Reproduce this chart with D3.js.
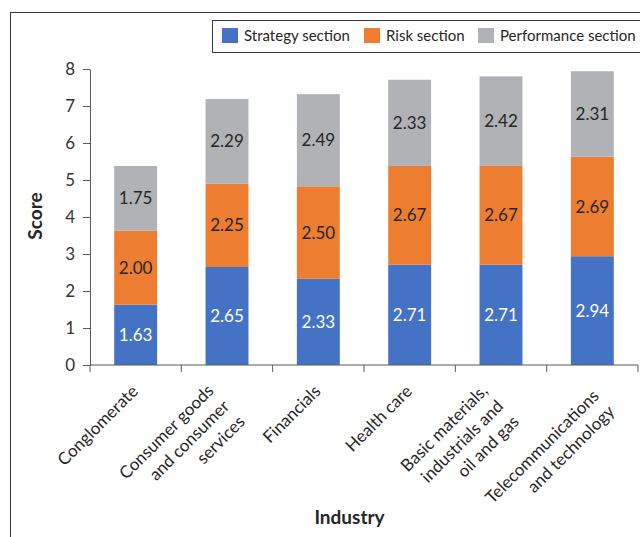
<!DOCTYPE html>
<html>
<head>
<meta charset="utf-8">
<script src="https://cdn.jsdelivr.net/npm/d3@7"></script>
<style>
  html, body { margin: 0; padding: 0; background: #fff; }
  svg { display: block; font-family: Lato, "Open Sans", sans-serif; }
</style>
</head>
<body>
<svg id="chart" width="640" height="537"></svg>
<script>
// Industry categories (each entry is a list of wrapped label lines)
const categories = [
  ["Conglomerate"],
  ["Consumer goods", "and consumer", "services"],
  ["Financials"],
  ["Health care"],
  ["Basic materials,", "industrials and", "oil and gas"],
  ["Telecommunications", "and technology"]
];
const seriesNames = ["Strategy section", "Risk section", "Performance section"];
const strategy    = [1.63, 2.65, 2.33, 2.71, 2.71, 2.94];
const risk        = [2.00, 2.25, 2.50, 2.67, 2.67, 2.69];
const performance = [1.75, 2.29, 2.49, 2.33, 2.42, 2.31];
const yTicks = [0, 1, 2, 3, 4, 5, 6, 7, 8];
const colors = ["#4472C4", "#ED7D31", "#B1B2B6"];
const labelColors = ["#ffffff", "#262626", "#262626"];

const svg = d3.select("#chart");
const margin = { left: 90, right: 2, top: 69, bottom: 172 };
const W = 640, H = 537;
const x0 = margin.left, x1 = W - margin.right;
const y0 = H - margin.bottom, y1 = margin.top;

// Outer frame (only its left and top edges fall inside the view)
svg.append("rect")
  .attr("x", 10.5).attr("y", 12.5)
  .attr("width", 700).attr("height", 600)
  .attr("fill", "none").attr("stroke", "#3a3a3a").attr("stroke-width", 1);

const keys = categories.map((c, i) => i);
const x = d3.scaleBand().domain(keys).range([x0, x1]).paddingInner(0.53).paddingOuter(0.265);
const xEdge = d3.scaleLinear().domain([0, categories.length]).range([x0, x1]);
const y = d3.scaleLinear().domain([0, 8]).range([y0, y1]);

// Stacked bars
const rows = keys.map(i => ({ i, s0: strategy[i], s1: risk[i], s2: performance[i] }));
const stack = d3.stack().keys(["s0", "s1", "s2"]);
const layers = stack(rows);

layers.forEach((layer, li) => {
  const g = svg.append("g");
  g.selectAll("rect").data(layer).join("rect")
    .attr("x", d => x(d.data.i))
    .attr("width", x.bandwidth())
    .attr("y", d => y(d[1]))
    .attr("height", d => y(d[0]) - y(d[1]))
    .attr("fill", colors[li]);
  g.selectAll("text").data(layer).join("text")
    .attr("x", d => x(d.data.i) + x.bandwidth() / 2)
    .attr("y", d => (y(d[0]) + y(d[1])) / 2)
    .attr("dy", "0.36em")
    .attr("text-anchor", "middle")
    .attr("font-size", 17)
    .attr("fill", labelColors[li])
    .text(d => (d[1] - d[0]).toFixed(2));
});

// Y axis
const yAxis = d3.axisLeft(y).tickValues(yTicks).tickSize(7).tickSizeOuter(0).tickPadding(8);
const gy = svg.append("g").attr("transform", `translate(${x0},0)`).call(yAxis);
gy.selectAll("path, line").attr("stroke", "#595959");
gy.selectAll("text").attr("font-size", 17).attr("fill", "#333").attr("font-family", "Lato, sans-serif");

// X axis: baseline with ticks at category boundaries
const gx = svg.append("g");
gx.append("line").attr("x1", x0).attr("x2", x1).attr("y1", y0).attr("y2", y0)
  .attr("stroke", "#595959");
gx.selectAll("line.tick").data(d3.range(categories.length + 1)).join("line")
  .attr("class", "tick")
  .attr("x1", d => xEdge(d)).attr("x2", d => xEdge(d))
  .attr("y1", y0).attr("y2", y0 + 7)
  .attr("stroke", "#595959");

// Rotated, right-aligned category labels; two-line blocks sit a little further out
const lineH = 22;
categories.forEach((lines, i) => {
  const cx = x(i) + x.bandwidth() / 2;
  const n = lines.length;
  const shiftX = n === 2 ? 12 : 0;
  const shiftY = n === 2 ? 5 : 0;
  const g = svg.append("g")
    .attr("transform", `translate(${cx - 1 + shiftX},${388 + (n - 1) * 7.5 + shiftY}) rotate(-45)`);
  lines.forEach((t, k) => {
    g.append("text")
      .attr("x", 0)
      .attr("y", (k - (n - 1) / 2) * lineH)
      .attr("dy", "0.36em")
      .attr("text-anchor", "end")
      .attr("font-size", 17)
      .attr("fill", "#262626")
      .text(t);
  });
});

// Axis titles
svg.append("text")
  .attr("transform", "translate(42,216) rotate(-90)")
  .attr("text-anchor", "middle")
  .attr("font-size", 19).attr("font-weight", "bold").attr("fill", "#262626")
  .text("Score");
svg.append("text")
  .attr("x", 349.5).attr("y", 524)
  .attr("text-anchor", "middle")
  .attr("font-size", 19).attr("font-weight", "bold").attr("fill", "#262626")
  .text("Industry");

// Legend
const lg = svg.append("g");
lg.append("rect").attr("x", 212.5).attr("y", 20.5).attr("width", 500).attr("height", 32)
  .attr("fill", "#fff").attr("stroke", "#3a3a3a");
const legendX = [222, 364, 478];
seriesNames.forEach((name, i) => {
  lg.append("rect").attr("x", legendX[i]).attr("y", 28).attr("width", 16).attr("height", 15)
    .attr("fill", colors[i]);
  lg.append("text").attr("x", legendX[i] + 22).attr("y", 36).attr("dy", "0.36em")
    .attr("font-size", 15).attr("fill", "#262626").text(name);
});
</script>
</body>
</html>
